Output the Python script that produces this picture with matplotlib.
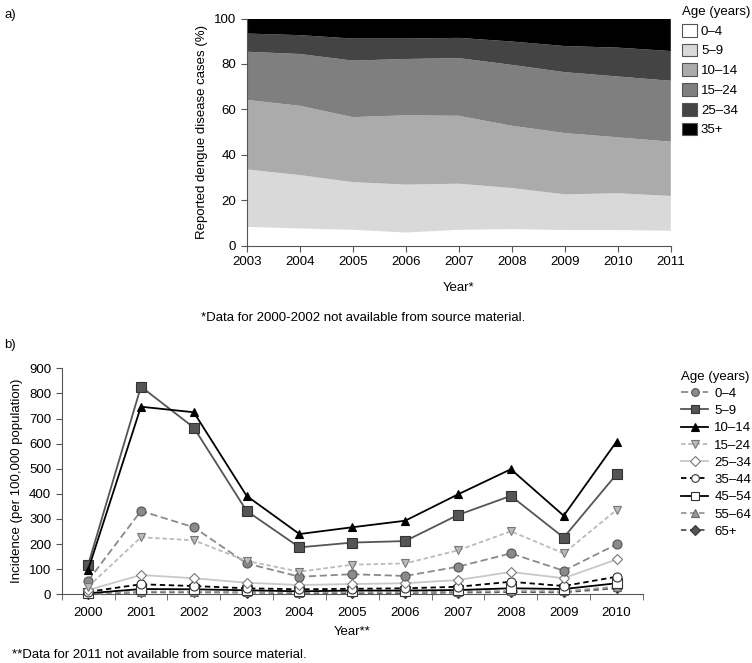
import matplotlib
matplotlib.use("Agg")
import matplotlib.pyplot as plt
import numpy as np

plt.rcParams["font.family"] = ["Liberation Sans", "DejaVu Sans"]
plt.rcParams["font.size"] = 9.5

# Panel a: share of reported dengue cases by age group (%)
years_a = [2003, 2004, 2005, 2006, 2007, 2008, 2009, 2010, 2011]
groups_a = ["0–4", "5–9", "10–14", "15–24", "25–34", "35+"]
share_0_4 = [8.3, 7.6, 7.0, 5.8, 7.0, 7.3, 6.9, 6.9, 6.6]
share_5_9 = [25.3, 23.5, 21.0, 21.1, 20.3, 18.1, 15.7, 16.2, 15.3]
share_10_14 = [30.6, 30.5, 28.6, 30.5, 29.9, 27.4, 27.0, 24.6, 23.9]
share_15_24 = [21.2, 22.8, 24.9, 24.8, 25.4, 26.8, 26.8, 26.8, 26.8]
share_25_34 = [8.0, 8.3, 9.7, 9.0, 8.9, 10.3, 11.5, 12.7, 13.1]
share_35p = [6.6, 7.3, 8.8, 8.8, 8.5, 10.1, 12.1, 12.8, 14.3]
colors_a = ["#ffffff", "#d9d9d9", "#ababab", "#7f7f7f", "#444444", "#000000"]

# Panel b: incidence per 100,000 population
years_b = [2000, 2001, 2002, 2003, 2004, 2005, 2006, 2007, 2008, 2009, 2010]
groups_b = ["0–4", "5–9", "10–14", "15–24", "25–34", "35–44", "45–54", "55–64", "65+"]
inc_0_4 = [54, 332, 267, 123, 70, 80, 73, 110, 163, 94, 199]
inc_5_9 = [117, 827, 664, 332, 187, 206, 212, 316, 392, 226, 478]
inc_10_14 = [97, 747, 725, 392, 240, 267, 293, 398, 498, 313, 608]
inc_15_24 = [30, 227, 215, 133, 90, 118, 123, 175, 251, 163, 336]
inc_25_34 = [17, 77, 64, 46, 37, 41, 44, 57, 89, 64, 139]
inc_35_44 = [10, 40, 33, 24, 20, 22, 24, 30, 50, 33, 70]
inc_45_54 = [4, 21, 20, 16, 12, 15, 15, 17, 24, 21, 44]
inc_55_64 = [1, 11, 11, 8, 7, 8, 8, 11, 13, 12, 30]
inc_65p = [0, 8, 8, 7, 4, 5, 5, 7, 9, 8, 24]

fig = plt.figure(figsize=(7.52, 6.63), dpi=100)

# ---- a) stacked area
ax1 = fig.add_axes([0.328, 0.6294, 0.564, 0.3426])
shares = [share_0_4, share_5_9, share_10_14, share_15_24, share_25_34, share_35p]
ax1.stackplot(years_a, *shares, colors=colors_a, labels=groups_a, linewidth=0)
ax1.set_xlim(2003, 2011)
ax1.set_ylim(0, 100)
ax1.set_xticks(years_a)
ax1.set_yticks([0, 20, 40, 60, 80, 100])
ax1.spines[["top", "right"]].set_visible(False)
ax1.spines["left"].set_color("#555555")
ax1.spines["bottom"].set_color("#555555")
ax1.tick_params(color="#555555", length=4.5, pad=3)
ax1.set_ylabel("Reported dengue disease cases (%)", fontsize=9.5)
ax1.set_xlabel("Year*", fontsize=9.5, labelpad=10)
handles = [plt.Rectangle((0, 0), 1, 1, facecolor=c, edgecolor="#555555", linewidth=0.8) for c in colors_a]
leg1 = fig.legend(handles, groups_a, title="Age (years)", loc="upper left",
                  bbox_to_anchor=(0.897, 1.003), frameon=False, fontsize=9.5,
                  title_fontsize=9.5, handlelength=1.1, handleheight=1.1,
                  handletextpad=0.3, labelspacing=0.45, borderaxespad=0.2)
leg1._legend_box.align = "left"
fig.text(0.267, 0.520, "*Data for 2000-2002 not available from source material.",
         ha="left", va="center", fontsize=9.5)
fig.text(0.006, 0.978, "a)", fontsize=9.5, va="center")

# ---- b) lines
ax2 = fig.add_axes([0.082, 0.1036, 0.773, 0.3409])
incs = [inc_0_4, inc_5_9, inc_10_14, inc_15_24, inc_25_34, inc_35_44, inc_45_54, inc_55_64, inc_65p]
styles = [
    dict(color="#8a8a8a", ls=(0, (4, 2)), marker="o", mfc="#8a8a8a", mec="#555555"),
    dict(color="#555555", ls="-", marker="s", mfc="#555555", mec="#333333"),
    dict(color="#000000", ls="-", marker="^", mfc="#000000", mec="#000000"),
    dict(color="#bbbbbb", ls=(0, (2.5, 1.5)), marker="v", mfc="#bbbbbb", mec="#777777"),
    dict(color="#c8c8c8", ls="-", marker="D", mfc="#ffffff", mec="#777777"),
    dict(color="#000000", ls=(0, (3, 2)), marker="o", mfc="#ffffff", mec="#333333"),
    dict(color="#000000", ls="-", marker="s", mfc="#ffffff", mec="#333333"),
    dict(color="#999999", ls=(0, (3, 2)), marker="^", mfc="#999999", mec="#666666"),
    dict(color="#555555", ls=(0, (3, 2)), marker="D", mfc="#555555", mec="#333333"),
]
order = [8, 7, 6, 5, 4, 0, 3, 1, 2]
lines = {}
for i in order:
    st = styles[i]
    ms = 6.5 if st["marker"] in ("o", "s") else 6
    if st["marker"] == "D":
        ms = 5.5
    ln, = ax2.plot(years_b, incs[i], color=st["color"], ls=st["ls"], lw=1.3,
                   marker=st["marker"], mfc=st["mfc"], mec=st["mec"], mew=0.8,
                   ms=ms, label=groups_b[i], clip_on=False, zorder=3 + order.index(i))
    lines[i] = ln
ax2.set_xlim(1999.5, 2010.5)
ax2.set_ylim(0, 900)
ax2.set_yticks(range(0, 901, 100))
ax2.set_xticks(years_b)
ax2.set_xticks(np.arange(1999.5, 2010.6, 1), minor=True)
ax2.tick_params(axis="x", which="major", length=0, pad=9)
ax2.tick_params(axis="x", which="minor", length=4.5, color="#555555")
ax2.tick_params(axis="y", length=4.5, color="#555555", pad=3)
ax2.spines[["top", "right"]].set_visible(False)
ax2.spines["left"].set_color("#555555")
ax2.spines["bottom"].set_color("#555555")
ax2.set_ylabel("Incidence (per 100,000 population)", fontsize=9.5)
ax2.set_xlabel("Year**", fontsize=9.5, labelpad=5)
leg2 = fig.legend([lines[i] for i in range(9)], groups_b, title="Age (years)",
                  loc="upper left", bbox_to_anchor=(0.899, 0.449), frameon=False,
                  fontsize=9.5, title_fontsize=9.5, handlelength=2.0,
                  handletextpad=0.5, labelspacing=0.38, borderaxespad=0,
                  markerscale=0.85)
leg2._legend_box.align = "left"
fig.text(0.016, 0.012, "**Data for 2011 not available from source material.",
         fontsize=9.5, va="center")
fig.text(0.006, 0.48, "b)", fontsize=9.5, va="center")

fig.savefig("out.png", dpi=100)
